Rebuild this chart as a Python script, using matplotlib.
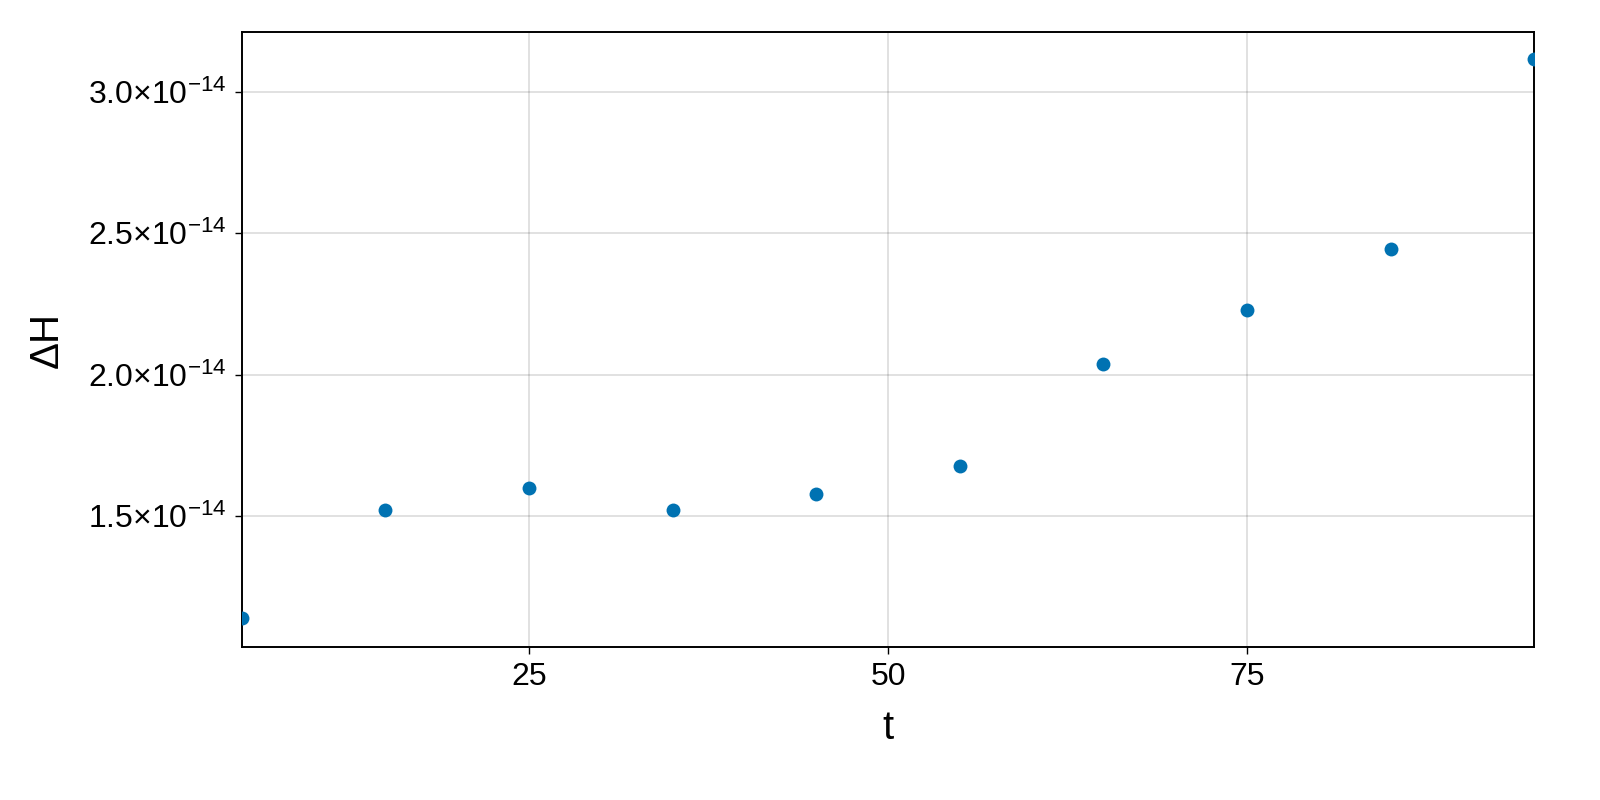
import matplotlib.pyplot as plt
from matplotlib.ticker import FuncFormatter

plt.rcParams['font.family'] = ['Liberation Sans', 'DejaVu Sans']
plt.rcParams['mathtext.fontset'] = 'custom'
plt.rcParams['mathtext.rm'] = 'Liberation Sans'
plt.rcParams['mathtext.it'] = 'Liberation Sans'

# data
t = [5, 15, 25, 35, 45, 55, 65, 75, 85, 95]
dH = [1.139e-14, 1.521e-14, 1.599e-14, 1.521e-14, 1.578e-14,
      1.677e-14, 2.039e-14, 2.230e-14, 2.443e-14, 3.117e-14]
xticks = [25, 50, 75]
yticks = [1.5e-14, 2.0e-14, 2.5e-14, 3.0e-14]

fig = plt.figure(figsize=(8, 4), dpi=200)
ax = fig.add_axes([0.151, 0.191, 0.808, 0.769])

ax.scatter(t, dH, s=25, color='#0072B2', zorder=3, linewidths=0)

ax.set_xlim(5, 95)
ax.set_ylim(1.036e-14, 3.212e-14)
ax.set_xticks(xticks)
ax.set_yticks(yticks)


def sci(v, pos):
    m = v / 1e-14
    return r'$\mathrm{%.1f{\times}10^{-14}}$' % m


ax.yaxis.set_major_formatter(FuncFormatter(sci))
ax.grid(True, color='black', alpha=0.12, linewidth=0.7)
ax.set_axisbelow(True)
ax.tick_params(labelsize=11.5, length=2.5, width=0.5, pad=3)
for s in ax.spines.values():
    s.set_linewidth(0.7)

ax.set_xlabel('t', fontsize=14.5, labelpad=6)
ax.set_ylabel('ΔH', fontsize=14.5, labelpad=8)

fig.savefig('out.png', dpi=200)
